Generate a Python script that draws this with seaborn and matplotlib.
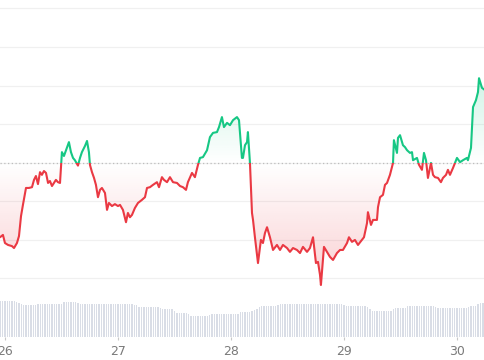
"""Price line with open-price baseline and 30 min volume bars."""
import numpy as np
import matplotlib
matplotlib.use("Agg")
import matplotlib.pyplot as plt
from matplotlib.colors import to_rgb
from matplotlib.patches import Rectangle
import seaborn as sns

# price samples: day of month (decimal) and price
times = [
    25.956, 25.982, 26.000, 26.027, 26.062, 26.080, 26.106, 26.124, 26.142, 26.159,
    26.186, 26.212, 26.239, 26.257, 26.274, 26.292, 26.310, 26.327, 26.345, 26.363,
    26.381, 26.398, 26.416, 26.434, 26.451, 26.469, 26.487, 26.504, 26.522, 26.540,
    26.566, 26.584, 26.602, 26.619, 26.646, 26.664, 26.681, 26.708, 26.726, 26.743,
    26.752, 26.770, 26.788, 26.805, 26.823, 26.841, 26.858, 26.885, 26.903, 26.920,
    26.947, 26.973, 27.000, 27.018, 27.044, 27.071, 27.088, 27.106, 27.124, 27.150,
    27.177, 27.212, 27.239, 27.257, 27.283, 27.310, 27.345, 27.363, 27.389, 27.407,
    27.434, 27.460, 27.487, 27.522, 27.549, 27.575, 27.602, 27.619, 27.655, 27.681,
    27.708, 27.726, 27.752, 27.788, 27.814, 27.841, 27.876, 27.894, 27.920, 27.938,
    27.965, 27.991, 28.018, 28.053, 28.071, 28.097, 28.106, 28.124, 28.142, 28.150,
    28.168, 28.186, 28.195, 28.212, 28.239, 28.265, 28.283, 28.301, 28.319, 28.345,
    28.372, 28.407, 28.434, 28.460, 28.496, 28.522, 28.549, 28.584, 28.611, 28.637,
    28.673, 28.699, 28.726, 28.752, 28.770, 28.788, 28.796, 28.823, 28.850, 28.876,
    28.903, 28.938, 28.965, 28.991, 29.027, 29.044, 29.071, 29.097, 29.124, 29.159,
    29.177, 29.204, 29.212, 29.239, 29.257, 29.292, 29.301, 29.319, 29.345, 29.363,
    29.381, 29.407, 29.434, 29.442, 29.469, 29.478, 29.496, 29.522, 29.540, 29.558,
    29.584, 29.602, 29.611, 29.646, 29.664, 29.690, 29.708, 29.726, 29.743, 29.770,
    29.788, 29.805, 29.832, 29.858, 29.876, 29.903, 29.920, 29.938, 29.965, 29.982,
    30.000, 30.027, 30.053, 30.088, 30.097, 30.124, 30.142, 30.168, 30.186, 30.195,
    30.221, 30.248,
]
prices = [
    2.06, 2.12, 1.91, 1.86, 1.83, 1.78, 1.91, 2.09, 2.61, 2.90,
    3.34, 3.34, 3.36, 3.55, 3.65, 3.44, 3.75, 3.68, 3.78, 3.73,
    3.47, 3.52, 3.39, 3.47, 3.55, 3.49, 3.47, 4.27, 4.17, 4.32,
    4.53, 4.27, 4.12, 4.06, 3.92, 4.12, 4.27, 4.43, 4.56, 4.27,
    3.94, 3.75, 3.60, 3.42, 3.10, 3.29, 3.34, 3.21, 2.77, 2.95,
    2.87, 2.92, 2.87, 2.90, 2.77, 2.45, 2.69, 2.58, 2.64, 2.82,
    2.95, 3.03, 3.10, 3.34, 3.36, 3.42, 3.49, 3.36, 3.62, 3.55,
    3.49, 3.62, 3.49, 3.47, 3.39, 3.36, 3.29, 3.49, 3.73, 3.62,
    3.94, 4.12, 4.14, 4.32, 4.66, 4.77, 4.79, 4.92, 5.18, 4.92,
    5.03, 4.97, 5.10, 5.18, 5.10, 4.12, 4.12, 4.45, 4.53, 4.79,
    3.99, 2.69, 2.51, 2.06, 1.39, 1.99, 1.91, 2.17, 2.32, 2.06,
    1.73, 1.86, 1.73, 1.86, 1.78, 1.68, 1.78, 1.73, 1.65, 1.81,
    1.68, 1.78, 2.06, 1.39, 1.42, 1.08, 0.82, 1.81, 1.68, 1.55,
    1.47, 1.65, 1.73, 1.73, 1.91, 2.06, 1.94, 1.99, 1.86, 1.99,
    2.06, 2.43, 2.71, 2.38, 2.51, 2.51, 2.84, 3.10, 3.16, 3.42,
    3.47, 3.68, 3.99, 4.58, 4.25, 4.64, 4.71, 4.45, 4.40, 4.32,
    4.25, 4.27, 4.06, 4.12, 3.94, 3.81, 4.25, 4.06, 3.60, 3.99,
    3.68, 3.62, 3.60, 3.49, 3.60, 3.68, 3.81, 3.68, 3.86, 3.99,
    4.12, 4.01, 4.06, 4.12, 4.06, 4.38, 5.44, 5.62, 5.83, 6.19,
    5.94, 5.88,
]
open_price = 3.99

# volume, one bar per 30 min starting on the 25th at 23:00
volume = [
    36, 36, 36, 36, 36, 36, 36, 35, 34, 33, 32, 32,
    32, 32, 32, 32, 33, 33, 33, 33, 33, 33, 33, 33,
    33, 33, 33, 35, 35, 35, 35, 35, 35, 34, 33, 33,
    33, 33, 33, 33, 33, 33, 33, 33, 33, 33, 33, 33,
    33, 33, 33, 33, 33, 33, 33, 33, 33, 32, 32, 30,
    30, 30, 30, 30, 30, 30, 30, 30, 29, 28, 28, 28,
    28, 28, 26, 24, 24, 24, 24, 24, 23, 21, 21, 21,
    21, 21, 21, 21, 21, 22, 23, 23, 23, 23, 23, 23,
    23, 23, 23, 23, 23, 23, 25, 25, 25, 25, 25, 26,
    27, 28, 30, 31, 31, 31, 31, 31, 31, 31, 32, 33,
    33, 33, 33, 33, 33, 33, 33, 33, 33, 33, 33, 33,
    33, 33, 33, 33, 33, 33, 33, 33, 33, 33, 33, 33,
    33, 33, 32, 31, 31, 31, 31, 31, 31, 31, 31, 31,
    30, 28, 26, 26, 26, 26, 26, 26, 26, 26, 26, 28,
    29, 29, 29, 29, 29, 31, 31, 31, 31, 31, 31, 31,
    31, 31, 31, 31, 31, 30, 29, 29, 29, 29, 29, 29,
    29, 29, 29, 29, 29, 29, 29, 30, 31, 31, 31, 33,
    34, 34, 34,
]
vol_start = 25 + 23 / 24

day_ticks = [26, 27, 28, 29, 30]
day_labels = ["26", "27", "28", "29", "30"]

GREEN = "#16c784"
RED = "#ea3943"

sns.set_style("white")
plt.rcParams["font.family"] = ["DejaVu Sans"]

fig = plt.figure(figsize=(4.85, 3.6), dpi=100)
ax = fig.add_axes([0, 23 / 360, 1, 337 / 360])
vax = ax.twinx()  # volume bars

x0, x1 = 25.956, 30.248
y0, y1 = -0.53, 8.22

# gradient fill between the line and the open price
ys = np.linspace(y0, y1, 500)
up = ys >= open_price
rgba = np.zeros((len(ys), 2, 4))
rgba[up, :, :3] = to_rgb(GREEN)
rgba[~up, :, :3] = to_rgb(RED)
a_up = 0.2 * (ys - open_price) / (max(prices) - open_price)
a_dn = 0.24 * (open_price - ys) / (open_price - min(prices))
rgba[:, :, 3] = np.clip(np.where(up, a_up, a_dn), 0, 0.3)[:, None]
im = ax.imshow(rgba, extent=(x0, x1, y0, y1), origin="lower",
               aspect="auto", zorder=1, interpolation="bilinear")
poly = ax.fill_between(times, prices, open_price, color="none")
im.set_clip_path(poly.get_paths()[0], transform=ax.transData)
poly.remove()

# price line, green above the open price and red below
sns.lineplot(x=times, y=prices, ax=ax, color=GREEN, lw=1.5, sort=False,
             estimator=None, zorder=3)
ax.lines[-1].set_clip_path(Rectangle((x0, open_price), x1 - x0, y1 - open_price,
                                     transform=ax.transData))
sns.lineplot(x=times, y=prices, ax=ax, color=RED, lw=1.5, sort=False,
             estimator=None, zorder=3)
ax.lines[-1].set_clip_path(Rectangle((x0, y0), x1 - x0, open_price - y0,
                                     transform=ax.transData))

ax.axhline(open_price, color="#bdbdbd", lw=0.9, ls=(0, (1, 2)), zorder=2)

vol_t = vol_start + np.arange(len(volume)) / 48
vax.bar(vol_t, volume, width=0.012, color="#d9dde6", lw=0)
vax.set_ylim(0, 337)
vax.axis("off")

ax.set_xlim(x0, x1)
ax.set_ylim(y0, y1)
ax.set_yticks(range(1, 9))
ax.yaxis.grid(True, color="#f0f0f0", lw=0.9)
ax.xaxis.grid(False)
ax.set_axisbelow(True)
ax.tick_params(axis="y", left=False, right=False, labelleft=False,
               labelright=False)
ax.set_xticks(day_ticks, day_labels)
ax.tick_params(axis="x", bottom=True, top=False, length=2.5, width=0.8,
               color="#c8c8c8", labelcolor="#7a7a7a", labelsize=9, pad=3)
for spine in ax.spines.values():
    spine.set_visible(False)

fig.savefig("out.png", dpi=100)
